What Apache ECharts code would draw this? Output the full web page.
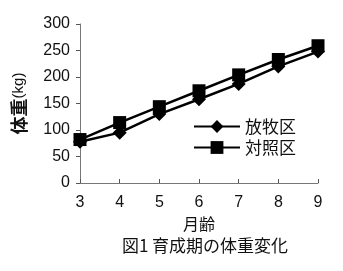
<!DOCTYPE html>
<html><head><meta charset="utf-8">
<script src="https://cdn.jsdelivr.net/npm/echarts@6/dist/echarts.min.js"></script>
<style>html,body{margin:0;padding:0;background:#fff}#c{width:343px;height:271px}</style>
</head><body><div id="c"></div>
<script>
const months = [3, 4, 5, 6, 7, 8, 9];
const grazing = [78, 95, 130, 158, 187, 220, 248];
const control = [82, 114, 144, 174, 204, 233, 259];
const seriesNames = ['放牧区', '対照区'];
const yTicks = [0, 50, 100, 150, 200, 250, 300];

const jp = '"Noto Sans CJK JP", sans-serif';
const num = '"Liberation Sans", Arial, sans-serif';
const chart = echarts.init(document.getElementById('c'));
chart.setOption({
  animation: false,
  backgroundColor: '#fff',
  title: {
    text: '図1 育成期の体重変化', left: 200, textAlign: 'center', top: 232,
    textStyle: { fontFamily: jp, fontSize: 17, fontWeight: 'normal', color: '#111' }
  },
  legend: {
    orient: 'vertical', left: 188, top: 113, itemWidth: 46, itemHeight: 16, itemGap: 4,
    textStyle: { fontFamily: jp, fontSize: 17, color: '#111' },
    data: seriesNames
  },
  grid: { left: 80, right: 25, top: 24, bottom: 88 },
  xAxis: {
    type: 'value', min: 3, max: 9, interval: 1,
    name: '月齢', nameLocation: 'middle', nameGap: 33,
    nameTextStyle: { fontFamily: jp, fontSize: 16, color: '#111' },
    axisLine: { lineStyle: { color: '#777', width: 1 } },
    axisTick: { inside: true, length: 4, lineStyle: { color: '#555' } },
    axisLabel: { fontFamily: num, fontSize: 16, color: '#111', margin: 12 },
    splitLine: { show: false }
  },
  yAxis: {
    type: 'value', min: yTicks[0], max: yTicks[yTicks.length - 1], interval: 50,
    name: '{a|体重}{b|(kg)}', nameLocation: 'middle', nameGap: 52, nameRotate: 90,
    nameTextStyle: { fontSize: 15, fontFamily: num, color: '#111', rich: {
      a: { fontFamily: jp, fontSize: 18, fontWeight: 'bold', color: '#111' },
      b: { fontFamily: num, fontSize: 15, color: '#111' }
    } },
    axisLine: { show: true, lineStyle: { color: '#777', width: 1 } },
    axisTick: { show: true, length: 4, lineStyle: { color: '#555' } },
    axisLabel: { fontFamily: num, fontSize: 16, color: '#111', margin: 10 },
    splitLine: { show: false }
  },
  series: [
    {
      name: seriesNames[0], type: 'line', symbol: 'diamond', symbolSize: 14,
      data: months.map((m, i) => [m, grazing[i]]),
      lineStyle: { color: '#000', width: 2.5 }, itemStyle: { color: '#000' }
    },
    {
      name: seriesNames[1], type: 'line', symbol: 'rect', symbolSize: 13,
      data: months.map((m, i) => [m, control[i]]),
      lineStyle: { color: '#000', width: 2.5 }, itemStyle: { color: '#000' }
    }
  ]
});
</script></body></html>
